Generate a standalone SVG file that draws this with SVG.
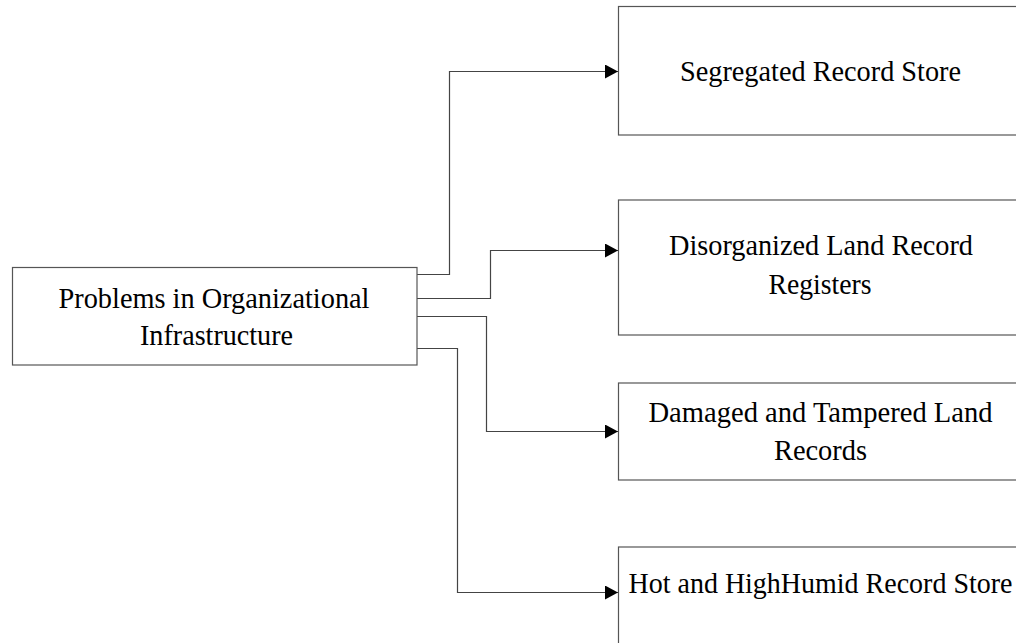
<svg xmlns="http://www.w3.org/2000/svg" width="1016" height="643" viewBox="0 0 1016 643">
  <style>
    .box { fill: #ffffff; stroke: #555555; stroke-width: 1.2; }
    .lbl { font-family: "Liberation Serif", "Times New Roman", serif; font-size: 30px; fill: #000000; text-anchor: middle; }
    .wire { fill: none; stroke: #444444; stroke-width: 1.2; marker-end: url(#arrow); }
  </style>
  <defs>
    <marker id="arrow" markerUnits="userSpaceOnUse" markerWidth="13" markerHeight="14" refX="13" refY="7" orient="auto">
      <path d="M0,0 L13,7 L0,14 Z" fill="#000000"/>
    </marker>
  </defs>
  <rect width="1016" height="643" fill="#ffffff"/>

  <g id="connectors">
    <path class="wire" d="M417,274.5 H449.5 V71.5 H618"/>
    <path class="wire" d="M417,298.5 H490.5 V250.5 H618"/>
    <path class="wire" d="M417,316.5 H486.5 V431.5 H618"/>
    <path class="wire" d="M417,348.5 H457.5 V592.5 H618"/>
  </g>

  <g id="node-problems">
    <rect class="box" x="12.5" y="267.5" width="404.5" height="97.5"/>
    <text class="lbl" x="214" y="308" textLength="311" lengthAdjust="spacingAndGlyphs">Problems in Organizational</text>
    <text class="lbl" x="216.5" y="345" textLength="153" lengthAdjust="spacingAndGlyphs">Infrastructure</text>
  </g>

  <g id="node-segregated">
    <rect class="box" x="618.5" y="6.5" width="405" height="128.5"/>
    <text class="lbl" x="820.5" y="81" textLength="281" lengthAdjust="spacingAndGlyphs">Segregated Record Store</text>
  </g>

  <g id="node-disorganized">
    <rect class="box" x="618.5" y="200" width="405" height="135"/>
    <text class="lbl" x="821" y="255" textLength="304" lengthAdjust="spacingAndGlyphs">Disorganized Land Record</text>
    <text class="lbl" x="820" y="294" textLength="103" lengthAdjust="spacingAndGlyphs">Registers</text>
  </g>

  <g id="node-damaged">
    <rect class="box" x="618.5" y="383" width="405" height="97"/>
    <text class="lbl" x="820.5" y="422" textLength="344" lengthAdjust="spacingAndGlyphs">Damaged and Tampered Land</text>
    <text class="lbl" x="820.5" y="460" textLength="93" lengthAdjust="spacingAndGlyphs">Records</text>
  </g>

  <g id="node-hot">
    <rect class="box" x="618.5" y="547" width="405" height="110"/>
    <text class="lbl" x="820.5" y="593" textLength="384" lengthAdjust="spacingAndGlyphs">Hot and HighHumid Record Store</text>
  </g>
</svg>
